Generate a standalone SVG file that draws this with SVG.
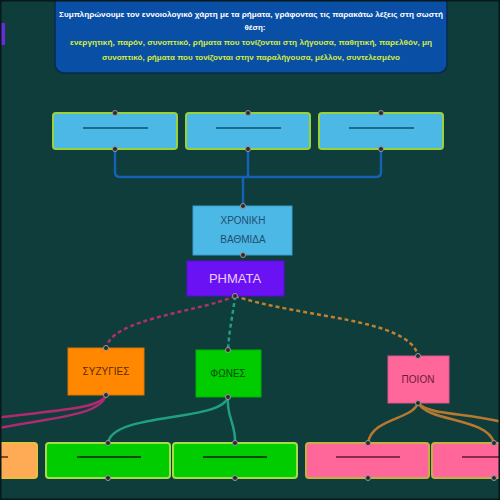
<svg xmlns="http://www.w3.org/2000/svg" width="500" height="500" viewBox="0 0 500 500">
<style>
text{font-family:"Liberation Sans",Arial,sans-serif}
.dot{fill:#2a2a2a;stroke:#9a9a9a;stroke-width:1}
.blank{stroke-width:2.2;fill:none}
.top{fill:#4cb8e6;stroke:#9ad03a;stroke-width:2}
.grn{fill:#00cc00;stroke:#a6dc48;stroke-width:2}
.pnk{fill:#ff6699;stroke:#c8b040;stroke-width:2}
.conn{fill:none;stroke-width:2.5}
.dash{stroke-dasharray:4 3}
</style>
<rect x="0" y="0" width="500" height="500" fill="#0e3d3b"/>

<g id="intro">
<rect x="55" y="-6" width="392" height="79" rx="9" fill="#0a4fa6" stroke="#072a50" stroke-width="1.5"/>
<text x="251" y="17" font-size="8" font-weight="bold" fill="#ffffff" text-anchor="middle" textLength="384" lengthAdjust="spacingAndGlyphs">Συμπληρώνουμε τον εννοιολογικό χάρτη με τα ρήματα, γράφοντας τις παρακάτω λέξεις στη σωστή</text>
<text x="255" y="30" font-size="8" font-weight="bold" fill="#ffffff" text-anchor="middle">θέση:</text>
<text x="251" y="45" font-size="8" font-weight="bold" fill="#d6ec3c" text-anchor="middle" textLength="362" lengthAdjust="spacingAndGlyphs">ενεργητική, παρόν, συνοπτικό, ρήματα που τονίζονται στη λήγουσα, παθητική, παρελθόν, μη</text>
<text x="251" y="60" font-size="8" font-weight="bold" fill="#d6ec3c" text-anchor="middle" textLength="298" lengthAdjust="spacingAndGlyphs">συνοπτικό, ρήματα που τονίζονται στην παραλήγουσα, μέλλον, συντελεσμένο</text>
</g>

<g id="offleft"><rect x="-10" y="23" width="15" height="22" fill="#6a2bd8"/></g>

<g id="connectors">
<path class="conn" stroke="#1462b4" d="M115,149 V172 Q115,177 120,177 H376 Q381,177 381,172 V149 M248,149 V177 M243,177 V206"/>
<path class="conn dash" stroke="#b0306a" d="M235,296 C200,312 112,318 106,348"/>
<path class="conn dash" stroke="#20a080" d="M235,296 C233,315 229,330 228,350"/>
<path class="conn dash" stroke="#c08030" d="M235,296 C300,318 410,318 418,356"/>
<path class="conn" stroke="#b02a70" d="M106,395 C100,410 50,410 -20,420"/>
<path class="conn" stroke="#b02a70" d="M106,395 C100,418 40,418 -20,432"/>
<path class="conn" stroke="#20a080" d="M228,397 C222,422 112,412 108,443"/>
<path class="conn" stroke="#20a080" d="M228,397 C226,416 236,424 235,443"/>
<path class="conn" stroke="#b87830" d="M418,403 C412,420 372,418 368,443"/>
<path class="conn" stroke="#b87830" d="M418,403 C428,422 488,418 494,443"/>
<path class="conn" stroke="#b87830" d="M418,403 C430,416 470,412 510,424"/>
</g>

<g id="top1"><rect class="top" x="53" y="113" width="124" height="36" rx="3"/><line class="blank" stroke="#1a6a8a" x1="83" y1="128" x2="148" y2="128"/><circle class="dot" cx="115" cy="113" r="2.5"/><circle class="dot" cx="115" cy="149" r="2.5"/></g>
<g id="top2"><rect class="top" x="186" y="113" width="124" height="36" rx="3"/><line class="blank" stroke="#1a6a8a" x1="216" y1="128" x2="281" y2="128"/><circle class="dot" cx="248" cy="113" r="2.5"/><circle class="dot" cx="248" cy="149" r="2.5"/></g>
<g id="top3"><rect class="top" x="319" y="113" width="124" height="36" rx="3"/><line class="blank" stroke="#1a6a8a" x1="349" y1="128" x2="414" y2="128"/><circle class="dot" cx="381" cy="113" r="2.5"/><circle class="dot" cx="381" cy="149" r="2.5"/></g>

<g id="xroniki">
<rect x="193" y="206" width="99" height="49" fill="#4cb8e6" stroke="#3aa0d0" stroke-width="1"/>
<text x="243" y="224" font-size="10" fill="#1f4f6f" text-anchor="middle">ΧΡΟΝΙΚΗ</text>
<text x="243" y="243" font-size="10" fill="#1f4f6f" text-anchor="middle">ΒΑΘΜΙΔΑ</text>
<circle class="dot" cx="243" cy="206" r="2.5"/><circle class="dot" cx="243" cy="255" r="2.5"/>
</g>

<g id="rimata">
<rect x="187" y="261" width="97" height="35" fill="#6b12f5" stroke="#5a0ad8" stroke-width="1"/>
<text x="235" y="283" font-size="13" fill="#e6d0ff" text-anchor="middle">ΡΗΜΑΤΑ</text>
<circle class="dot" cx="235" cy="296" r="2.5"/>
</g>

<g id="syzygies">
<rect x="68" y="348" width="76" height="47" fill="#ff8800" stroke="#e07400" stroke-width="1"/>
<text x="106" y="375" font-size="10" fill="#5a2a00" text-anchor="middle">ΣΥΖΥΓΙΕΣ</text>
<circle class="dot" cx="106" cy="348" r="2.5"/><circle class="dot" cx="106" cy="395" r="2.5"/>
</g>

<g id="fones">
<rect x="196" y="350" width="65" height="47" fill="#00cc00" stroke="#00b000" stroke-width="1"/>
<text x="228" y="377" font-size="10" fill="#0a4a0a" text-anchor="middle">ΦΩΝΕΣ</text>
<circle class="dot" cx="228" cy="350" r="2.5"/><circle class="dot" cx="228" cy="397" r="2.5"/>
</g>

<g id="poion">
<rect x="388" y="356" width="61" height="47" fill="#ff6699" stroke="#e05588" stroke-width="1"/>
<text x="418" y="383" font-size="10" fill="#6a1a3a" text-anchor="middle">ΠΟΙΟΝ</text>
<circle class="dot" cx="418" cy="356" r="2.5"/><circle class="dot" cx="418" cy="403" r="2.5"/>
</g>

<g id="orange-left"><rect x="-90" y="443" width="127" height="35" rx="3" fill="#ffaa55" stroke="#e8c040" stroke-width="2"/><line class="blank" stroke="#8a4a1a" x1="-30" y1="457" x2="8" y2="457"/></g>
<g id="green1"><rect class="grn" x="46" y="443" width="124" height="35" rx="3"/><line class="blank" stroke="#0a4a0a" x1="77" y1="457" x2="141" y2="457"/><circle class="dot" cx="108" cy="443" r="2.5"/><circle class="dot" cx="108" cy="478" r="2.5"/></g>
<g id="green2"><rect class="grn" x="173" y="443" width="124" height="35" rx="3"/><line class="blank" stroke="#0a4a0a" x1="203" y1="457" x2="267" y2="457"/><circle class="dot" cx="235" cy="443" r="2.5"/><circle class="dot" cx="235" cy="478" r="2.5"/></g>
<g id="pink1"><rect class="pnk" x="306" y="443" width="123" height="35" rx="3"/><line class="blank" stroke="#8a2a50" x1="336" y1="457" x2="400" y2="457"/><circle class="dot" cx="368" cy="443" r="2.5"/><circle class="dot" cx="368" cy="478" r="2.5"/></g>
<g id="pink2"><rect class="pnk" x="432" y="443" width="124" height="35" rx="3"/><line class="blank" stroke="#8a2a50" x1="462" y1="457" x2="526" y2="457"/><circle class="dot" cx="494" cy="443" r="2.5"/><circle class="dot" cx="494" cy="478" r="2.5"/></g>

<rect x="0" y="0" width="500" height="500" fill="none" stroke="#061818" stroke-width="3"/>
</svg>
